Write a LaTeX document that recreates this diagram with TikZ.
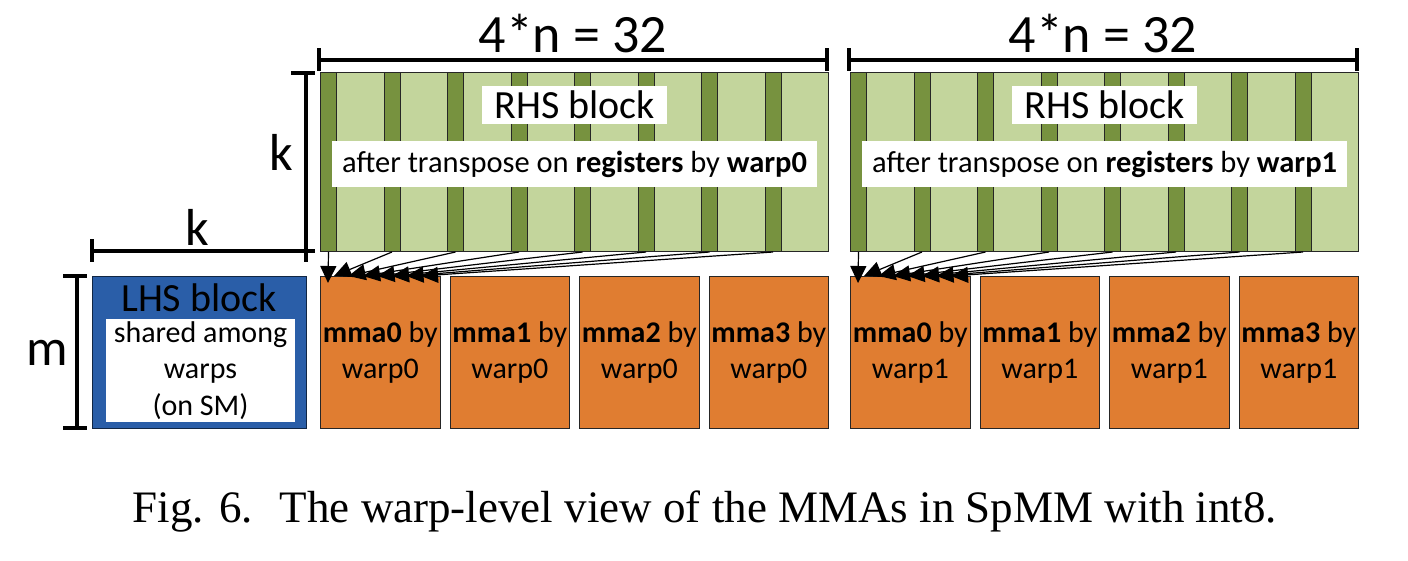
\documentclass[tikz,border=0pt]{standalone}
\usepackage{fontspec}
\setmainfont{Carlito}
\newfontfamily\capfont{Liberation Serif}
\usetikzlibrary{arrows.meta,positioning}
\definecolor{rhslight}{HTML}{C3D59C}
\definecolor{rhsdark}{HTML}{77923F}
\definecolor{mmaorange}{HTML}{E07D31}
\definecolor{lhsblue}{HTML}{2A5EA8}

\begin{document}
\begin{tikzpicture}[x=1pt,y=-1pt,
  every node/.style={inner sep=0pt},
  rhsblk/.style={draw=black!85,line width=1.2pt,fill=rhslight,anchor=north west,
    minimum width=508pt,minimum height=179pt},
  stripe/.style={draw=black!85,line width=1pt,fill=rhsdark,anchor=north west,
    minimum width=16pt,minimum height=179pt},
  mmabox/.style={draw=black!85,line width=1.2pt,fill=mmaorange,anchor=north west,
    minimum width=119.5pt,minimum height=152pt,align=center,
    font=\fontsize{30}{36}\selectfont},
  headtag/.style={fill=white,inner xsep=12pt,inner ysep=5pt,
    font=\fontsize{40}{48}\selectfont},
  subtag/.style={fill=white,inner xsep=10pt,inner ysep=10pt,
    font=\fontsize{30.5}{36}\selectfont},
  dim/.style={line width=3.5pt},
  dimtext/.style={anchor=base,font=\fontsize{52}{62}\selectfont},
  fetch/.style={-{Triangle[length=17pt,width=16pt]},line width=1.2pt},
]
  \useasboundingbox (0,0) rectangle (1408,560);

  % RHS blocks, one per warp
  \foreach \b/\bx in {0/320,1/850}{
    \node[rhsblk] (rhs\b) at (\bx,72) {};
    \foreach \i in {0,...,7}
      \node[stripe] (s\b-\i) at (\bx+63.5*\i,72) {};
    \node[headtag,below=14pt of rhs\b.north] (rhs\b-head) {RHS block};
    \node[subtag,below=16pt of rhs\b-head] (rhs\b-sub)
      {after transpose on \textbf{registers} by \textbf{warp\b}};
    % MMA tiles
    \foreach \j in {0,...,3}
      \node[mmabox] (mma\b-\j) at (\bx+129.5*\j,276)
        {\textbf{mma\j} by\\warp\b};
    % width bar
    \draw[dim] (\bx-1,60) -- (\bx+507,60);
    \draw[dim] (\bx-1,48) -- (\bx-1,71);
    \draw[dim] (\bx+507,48) -- (\bx+507,71);
    \node[dimtext,font=\fontsize{54}{64}\selectfont] (w\b) at (\bx+253,52) {4*n = 32};
    % stripes feed mma0
    \coordinate (t\b-0) at (\bx+8,283);
    \foreach \i in {1,...,7}
      \coordinate (t\b-\i) at (\bx-0.5+14.5*\i,276);
    \foreach \i in {0,...,7}
      \draw[fetch] (s\b-\i.south) -- (t\b-\i);
  }

  % LHS block
  \node[draw=black!60!lhsblue,line width=1.2pt,fill=lhsblue,anchor=north west,
    minimum width=214pt,minimum height=152pt] (lhs) at (92,276) {};
  \node[font=\fontsize{40}{48}\selectfont] (lhs-head) at (199,298) {LHS block};
  \node[fill=white,minimum width=189pt,minimum height=103pt,align=center,
    font=\fontsize{30}{36.5}\selectfont] (lhs-note) at (200.5,370.5)
    {shared among\\warps\\(on SM)};

  % k x k and m
  \draw[dim] (306,73) -- (306,262);
  \draw[dim] (291,73) -- (315,73);
  \node[dimtext] (kv) at (281,170) {k};
  \draw[dim] (92,251) -- (315,251);
  \draw[dim] (92,239) -- (92,262);
  \node[dimtext] (kh) at (197.5,245) {k};
  \draw[dim] (77,276) -- (77,428);
  \draw[dim] (63,276) -- (87,276);
  \draw[dim] (63,428) -- (87,428);
  \node[dimtext] (m) at (47,365) {m};

  \node[font=\capfont\fontsize{45}{54}\selectfont] (cap) at (705,512)
    {Fig. 6.\hspace{0.6em}The warp-level view of the MMAs in SpMM with int8.};
\end{tikzpicture}
\end{document}
